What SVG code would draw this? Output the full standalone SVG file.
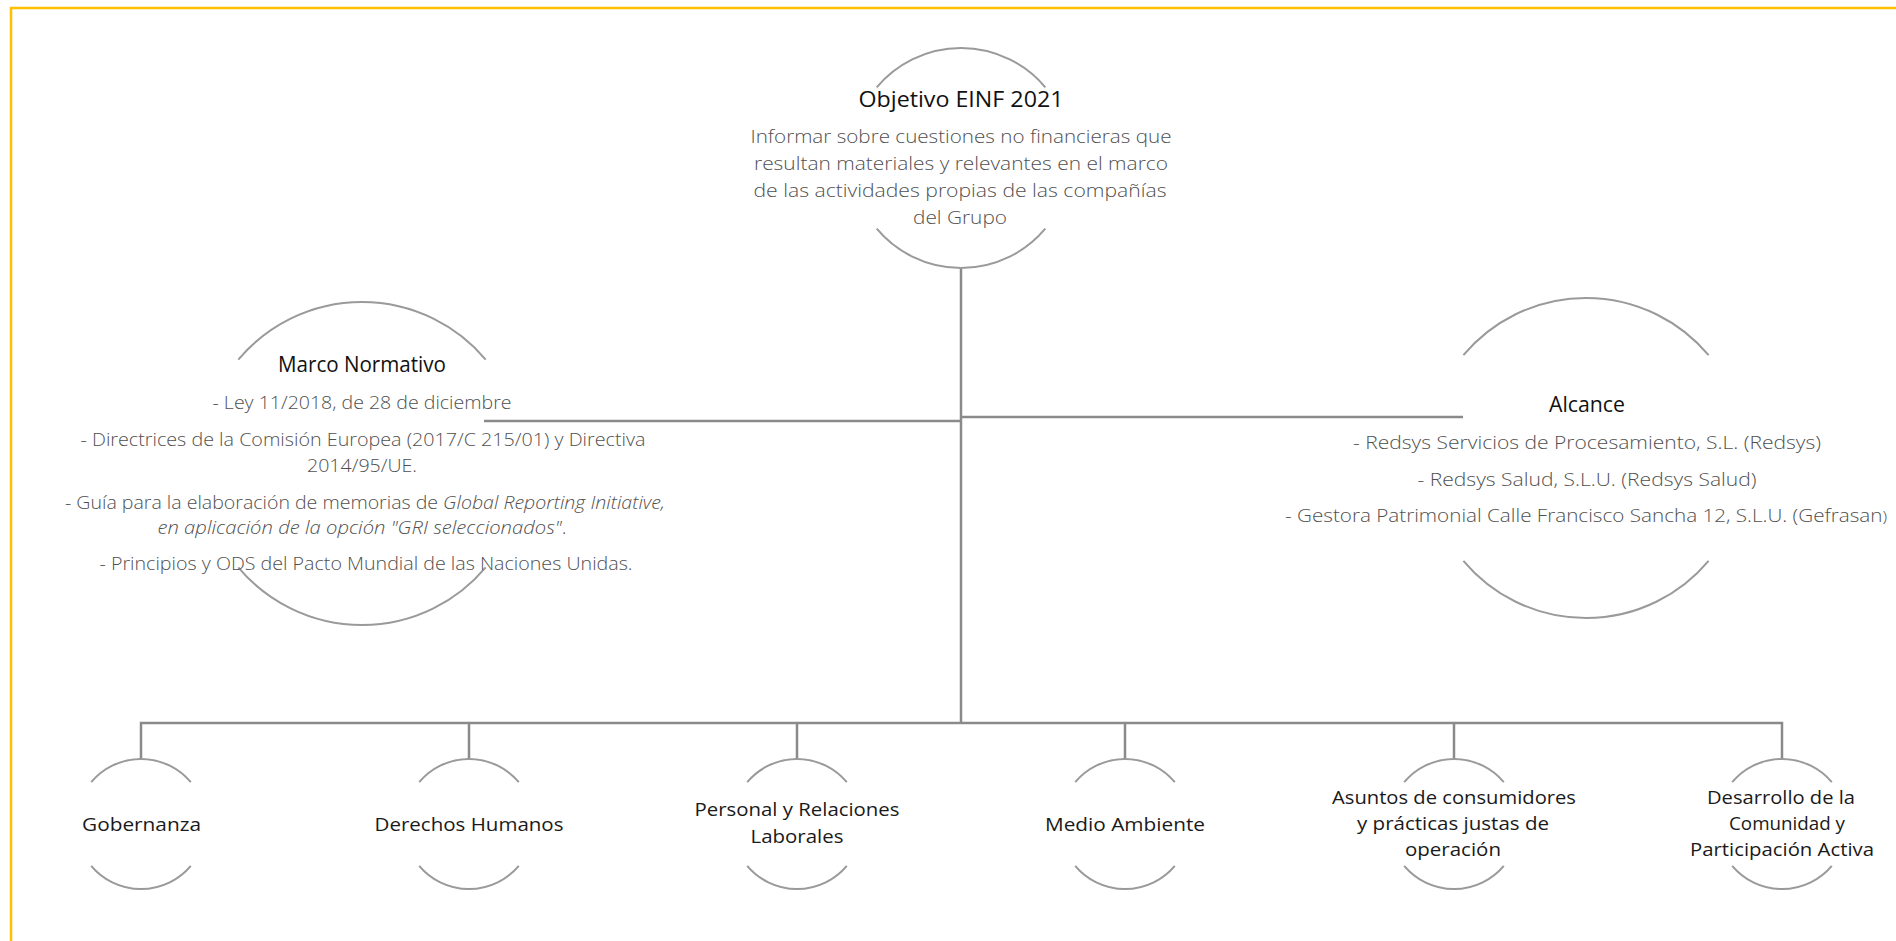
<svg xmlns="http://www.w3.org/2000/svg" width="1896" height="941" viewBox="0 0 1896 941">
<style>
.bg{fill:#ffffff}
.frame{stroke:#FFC000;stroke-width:2.5;fill:none}
.conn{stroke:#8a8a8a;stroke-width:2.5;fill:none}
.arc{stroke:#9a9a9a;stroke-width:2;fill:none}
.title{font-family:"Open Sans","Noto Sans",sans-serif;font-size:21px;fill:#111;text-anchor:middle}
.body{font-family:"Open Sans","Noto Sans",sans-serif;font-weight:300;font-size:18.5px;fill:#505050;text-anchor:middle}
.lab{font-family:"Open Sans","Noto Sans",sans-serif;font-size:19px;fill:#1a1a1a;text-anchor:middle}
.it{font-style:italic}
</style>
<rect class="bg" x="0" y="0" width="1896" height="941"/>
<path class="frame" d="M11,941 V8 H1896"/>
<g id="connectors">
<path class="conn" d="M961,268 V723"/>
<path class="conn" d="M484,421 H961"/>
<path class="conn" d="M961,417 H1463"/>
<path class="conn" d="M141,759 V723 H1782 V759"/>
<path class="conn" d="M469,723 V759"/>
<path class="conn" d="M797,723 V759"/>
<path class="conn" d="M1125,723 V759"/>
<path class="conn" d="M1454,723 V759"/>
</g>
<g id="objetivo">
<path class="arc" d="M876.7,87.3 A110,110 0 0 1 1045.3,87.3"/>
<path class="arc" d="M876.7,228.7 A110,110 0 0 0 1045.3,228.7"/>
<text class="title" x="961" y="107" textLength="205" lengthAdjust="spacingAndGlyphs">Objetivo EINF 2021</text>
<text class="body" x="961" y="143" textLength="421" lengthAdjust="spacingAndGlyphs">Informar sobre cuestiones no financieras que</text>
<text class="body" x="961" y="170" textLength="414" lengthAdjust="spacingAndGlyphs">resultan materiales y relevantes en el marco</text>
<text class="body" x="960" y="197" textLength="413" lengthAdjust="spacingAndGlyphs">de las actividades propias de las compañías</text>
<text class="body" x="960" y="224" textLength="94" lengthAdjust="spacingAndGlyphs">del Grupo</text>
</g>
<g id="marco">
<path class="arc" d="M238.3,359.7 A161.5,161.5 0 0 1 485.7,359.7"/>
<path class="arc" d="M238.3,567.3 A161.5,161.5 0 0 0 485.7,567.3"/>
<text class="title" x="362" y="372" textLength="168" lengthAdjust="spacingAndGlyphs">Marco Normativo</text>
<text class="body" x="362" y="409" textLength="299" lengthAdjust="spacingAndGlyphs">- Ley 11/2018, de 28 de diciembre</text>
<text class="body" x="363" y="446" textLength="565" lengthAdjust="spacingAndGlyphs">- Directrices de la Comisión Europea (2017/C 215/01) y Directiva</text>
<text class="body" x="362" y="472" textLength="110" lengthAdjust="spacingAndGlyphs">2014/95/UE.</text>
<text class="body" x="365" y="509" textLength="600" lengthAdjust="spacingAndGlyphs">- Guía para la elaboración de memorias de <tspan class="it">Global Reporting Initiative,</tspan></text>
<text class="body" x="362" y="534" textLength="409" lengthAdjust="spacingAndGlyphs"><tspan class="it">en aplicación de la opción "GRI seleccionados"</tspan>.</text>
<text class="body" x="366" y="570" textLength="533" lengthAdjust="spacingAndGlyphs">- Principios y ODS del Pacto Mundial de las Naciones Unidas.</text>
</g>
<g id="alcance">
<path class="arc" d="M1463.4,355.2 A160,160 0 0 1 1708.6,355.2"/>
<path class="arc" d="M1463.4,560.8 A160,160 0 0 0 1708.6,560.8"/>
<text class="title" x="1587" y="412" textLength="76" lengthAdjust="spacingAndGlyphs">Alcance</text>
<text class="body" x="1587" y="449" textLength="468" lengthAdjust="spacingAndGlyphs">- Redsys Servicios de Procesamiento, S.L. (Redsys)</text>
<text class="body" x="1587" y="486" textLength="339" lengthAdjust="spacingAndGlyphs">- Redsys Salud, S.L.U. (Redsys Salud)</text>
<text class="body" x="1586" y="522" textLength="602" lengthAdjust="spacingAndGlyphs">- Gestora Patrimonial Calle Francisco Sancha 12, S.L.U. (Gefrasan<tspan font-size="15">)</tspan></text>
</g>
<g id="gobernanza">
<path class="arc" d="M91.2,782.2 A65,65 0 0 1 190.8,782.2"/>
<path class="arc" d="M91.2,865.8 A65,65 0 0 0 190.8,865.8"/>
<text class="lab" x="141.5" y="831" textLength="119" lengthAdjust="spacingAndGlyphs">Gobernanza</text>
</g>
<g id="derechos">
<path class="arc" d="M419.2,782.2 A65,65 0 0 1 518.8,782.2"/>
<path class="arc" d="M419.2,865.8 A65,65 0 0 0 518.8,865.8"/>
<text class="lab" x="469" y="831" textLength="189" lengthAdjust="spacingAndGlyphs">Derechos Humanos</text>
</g>
<g id="personal">
<path class="arc" d="M747.2,782.2 A65,65 0 0 1 846.8,782.2"/>
<path class="arc" d="M747.2,865.8 A65,65 0 0 0 846.8,865.8"/>
<text class="lab" x="797" y="816" textLength="205" lengthAdjust="spacingAndGlyphs">Personal y Relaciones</text>
<text class="lab" x="797" y="843" textLength="93" lengthAdjust="spacingAndGlyphs">Laborales</text>
</g>
<g id="medio">
<path class="arc" d="M1075.2,782.2 A65,65 0 0 1 1174.8,782.2"/>
<path class="arc" d="M1075.2,865.8 A65,65 0 0 0 1174.8,865.8"/>
<text class="lab" x="1125" y="831" textLength="160" lengthAdjust="spacingAndGlyphs">Medio Ambiente</text>
</g>
<g id="asuntos">
<path class="arc" d="M1404.2,782.2 A65,65 0 0 1 1503.8,782.2"/>
<path class="arc" d="M1404.2,865.8 A65,65 0 0 0 1503.8,865.8"/>
<text class="lab" x="1454" y="804" textLength="244" lengthAdjust="spacingAndGlyphs">Asuntos de consumidores</text>
<text class="lab" x="1453" y="830" textLength="192" lengthAdjust="spacingAndGlyphs">y prácticas justas de</text>
<text class="lab" x="1453" y="856" textLength="96" lengthAdjust="spacingAndGlyphs">operación</text>
</g>
<g id="desarrollo">
<path class="arc" d="M1732.2,782.2 A65,65 0 0 1 1831.8,782.2"/>
<path class="arc" d="M1732.2,865.8 A65,65 0 0 0 1831.8,865.8"/>
<text class="lab" x="1781" y="804" textLength="148" lengthAdjust="spacingAndGlyphs">Desarrollo de la</text>
<text class="lab" x="1787" y="830" textLength="116" lengthAdjust="spacingAndGlyphs">Comunidad y</text>
<text class="lab" x="1782" y="856" textLength="184" lengthAdjust="spacingAndGlyphs">Participación Activa</text>
</g>
</svg>
